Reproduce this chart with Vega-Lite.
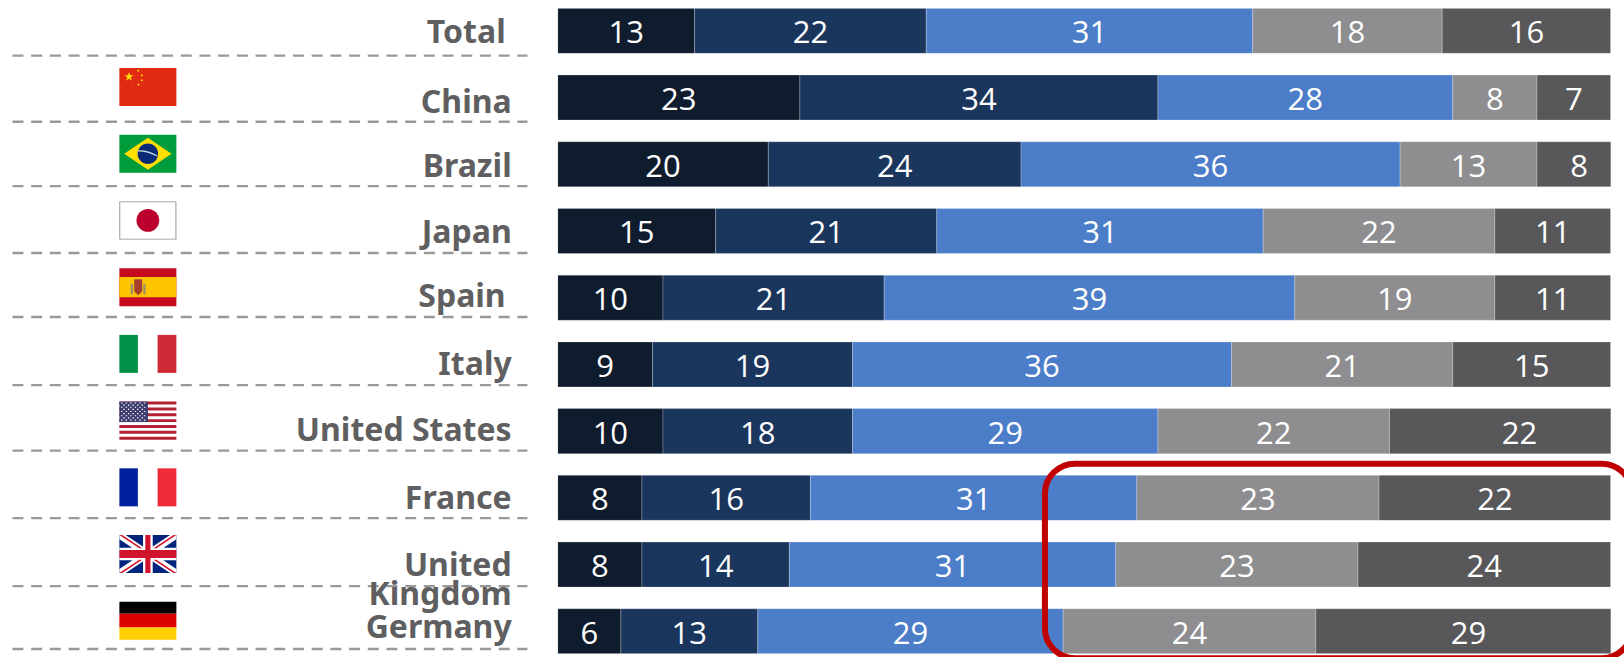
{"$schema":"https://vega.github.io/schema/vega-lite/v6.json","width":1053,"height":645.5,"padding":{"left":557.7,"right":13.3,"top":8.3,"bottom":3.2},"autosize":{"type":"none"},"background":"white","config":{"view":{"stroke":null}},
"datasets":{
"bars":[
{"country":"Total","seg":1,"value":13},{"country":"Total","seg":2,"value":22},{"country":"Total","seg":3,"value":31},{"country":"Total","seg":4,"value":18},{"country":"Total","seg":5,"value":16},
{"country":"China","seg":1,"value":23},{"country":"China","seg":2,"value":34},{"country":"China","seg":3,"value":28},{"country":"China","seg":4,"value":8},{"country":"China","seg":5,"value":7},
{"country":"Brazil","seg":1,"value":20},{"country":"Brazil","seg":2,"value":24},{"country":"Brazil","seg":3,"value":36},{"country":"Brazil","seg":4,"value":13},{"country":"Brazil","seg":5,"value":8},
{"country":"Japan","seg":1,"value":15},{"country":"Japan","seg":2,"value":21},{"country":"Japan","seg":3,"value":31},{"country":"Japan","seg":4,"value":22},{"country":"Japan","seg":5,"value":11},
{"country":"Spain","seg":1,"value":10},{"country":"Spain","seg":2,"value":21},{"country":"Spain","seg":3,"value":39},{"country":"Spain","seg":4,"value":19},{"country":"Spain","seg":5,"value":11},
{"country":"Italy","seg":1,"value":9},{"country":"Italy","seg":2,"value":19},{"country":"Italy","seg":3,"value":36},{"country":"Italy","seg":4,"value":21},{"country":"Italy","seg":5,"value":15},
{"country":"United States","seg":1,"value":10},{"country":"United States","seg":2,"value":18},{"country":"United States","seg":3,"value":29},{"country":"United States","seg":4,"value":22},{"country":"United States","seg":5,"value":22},
{"country":"France","seg":1,"value":8},{"country":"France","seg":2,"value":16},{"country":"France","seg":3,"value":31},{"country":"France","seg":4,"value":23},{"country":"France","seg":5,"value":22},
{"country":"United Kingdom","seg":1,"value":8},{"country":"United Kingdom","seg":2,"value":14},{"country":"United Kingdom","seg":3,"value":31},{"country":"United Kingdom","seg":4,"value":23},{"country":"United Kingdom","seg":5,"value":24},
{"country":"Germany","seg":1,"value":6},{"country":"Germany","seg":2,"value":13},{"country":"Germany","seg":3,"value":29},{"country":"Germany","seg":4,"value":24},{"country":"Germany","seg":5,"value":29}],
"countries":[{"country":"Total","label":"Total"},{"country":"China","label":"China"},{"country":"Brazil","label":"Brazil"},{"country":"Japan","label":"Japan"},{"country":"Spain","label":"Spain"},{"country":"Italy","label":"Italy"},{"country":"United States","label":"United States"},{"country":"France","label":"France"},{"country":"United Kingdom","label":"United\nKingdom"},{"country":"Germany","label":"Germany"}],
"flags":[
{"country":"China","part":"cn_bg"},{"country":"China","part":"cn_star"},
{"country":"Brazil","part":"br_bg"},{"country":"Brazil","part":"br_dia"},{"country":"Brazil","part":"br_globe"},{"country":"Brazil","part":"br_band"},
{"country":"Japan","part":"jp_edge"},{"country":"Japan","part":"jp_bg"},{"country":"Japan","part":"jp_disc"},
{"country":"Spain","part":"es_bg"},{"country":"Spain","part":"es_band"},{"country":"Spain","part":"es_pillars"},{"country":"Spain","part":"es_crest"},
{"country":"Italy","part":"it_l"},{"country":"Italy","part":"it_r"},
{"country":"United States","part":"us_bg"},{"country":"United States","part":"us_stripes"},{"country":"United States","part":"us_canton"},{"country":"United States","part":"us_stars"},
{"country":"France","part":"fr_l"},{"country":"France","part":"fr_r"},
{"country":"United Kingdom","part":"uk_bg"},{"country":"United Kingdom","part":"uk_white"},{"country":"United Kingdom","part":"uk_red"},
{"country":"Germany","part":"de_a"},{"country":"Germany","part":"de_b"},{"country":"Germany","part":"de_c"}],
"box":[{"name":"highlight"}]},
"layer":[
{"data":{"name":"bars"},"mark":{"type":"bar","clip":true,"stroke":"#ffffff","strokeWidth":0.4,"strokeOpacity":0.6},
"encoding":{"y":{"field":"country","type":"nominal","axis":null,"scale":{"domain":["Total","China","Brazil","Japan","Spain","Italy","United States","France","United Kingdom","Germany"],"paddingInner":0.325,"paddingOuter":0}},
"x":{"field":"value","type":"quantitative","stack":"zero","axis":null,"scale":{"domain":[0,100],"nice":false}},
"order":{"field":"seg","type":"ordinal"},
"color":{"field":"seg","type":"ordinal","legend":null,"scale":{"domain":[1,2,3,4,5],"range":["#0F1C2E","#1B365D","#4C7DC9","#8E8E90","#58585A"]}}}},
{"data":{"name":"bars"},"transform":[{"filter":"!(datum.country==='United States' && datum.seg===5)"}],"mark":{"type":"text","color":"white","font":"Open Sans","fontSize":31,"baseline":"middle","yOffset":3.5},
"encoding":{"y":{"field":"country","type":"nominal"},
"x":{"field":"value","type":"quantitative","stack":"zero","bandPosition":0.5},
"order":{"field":"seg","type":"ordinal"},
"text":{"field":"value","type":"quantitative"}}},
{"data":{"name":"bars"},"mark":{"type":"text","color":"white","font":"Open Sans","fontSize":31,"baseline":"middle","yOffset":3.5,"xOffset":130},
"transform":[{"stack":"value","groupby":["country"],"sort":[{"field":"seg","order":"ascending"}],"as":["a","b"]},{"filter":"datum.country==='United States' && datum.seg===5"}],
"encoding":{"y":{"field":"country","type":"nominal"},
"x":{"field":"a","type":"quantitative"},
"text":{"field":"value","type":"quantitative"}}},
{"data":{"name":"flags"},"mark":{"type":"point","filled":true,"size":3249,"opacity":1,"strokeWidth":0,"yOffset":-10.5},
"encoding":{"y":{"field":"country","type":"nominal"},
"x":{"datum":-38.92,"type":"quantitative"},
"fill":{"field":"part","type":"nominal","legend":null,"scale":{"domain":["cn_bg","cn_star","br_bg","br_dia","br_globe","br_band","jp_edge","jp_bg","jp_disc","es_bg","es_band","es_pillars","es_crest","it_l","it_r","us_bg","us_stripes","us_canton","us_stars","fr_l","fr_r","uk_bg","uk_white","uk_red","de_a","de_b","de_c"],"range":["#E12A12","#FFDE00","#009B3A","#FEDF00","#0A2A78","#C8DCD8","#8A8A8A","#FFFFFF","#BC002D","#C60B1E","#FFC400","#9A8F70","#A5402E","#009246","#CE2B37","#FFFFFF","#B22234","#3C3B6E","#FFFFFF","#00209F","#EF2B3A","#00247D","#FFFFFF","#CF142B","#000000","#DD0000","#FFCE00"]}},
"shape":{"field":"part","type":"nominal","legend":null,"scale":{"domain":["cn_bg","cn_star","br_bg","br_dia","br_globe","br_band","jp_edge","jp_bg","jp_disc","es_bg","es_band","es_pillars","es_crest","it_l","it_r","us_bg","us_stripes","us_canton","us_stars","fr_l","fr_r","uk_bg","uk_white","uk_red","de_a","de_b","de_c"],"range":[
"M-1,-.667H1V.667H-1Z",
"M-.66,-.53L-.622,-.413L-.498,-.413L-.598,-.34L-.56,-.222L-.66,-.295L-.76,-.222L-.722,-.34L-.822,-.413L-.698,-.413ZM-.34,-.62L-.3,-.575L-.34,-.53L-.38,-.575ZM-.21,-.455L-.17,-.41L-.21,-.365L-.25,-.41ZM-.21,-.285L-.17,-.24L-.21,-.195L-.25,-.24ZM-.33,-.125L-.29,-.08L-.33,-.035L-.37,-.08Z",
"M-1,-.667H1V.667H-1Z",
"M-.83,0L0,-.56L.83,0L0,.56Z",
"M-.36,0A.36,.36 0 1 1 .36,0A.36,.36 0 1 1 -.36,0Z",
"M-.34,-.12Q0,-.14 .34,.06L.33,.1Q0,-.08 -.35,-.08Z",
"M-1,-.667H1V.667H-1Z",
"M-.97,-.64H.97V.64H-.97Z",
"M-.4,0A.4,.4 0 1 1 .4,0A.4,.4 0 1 1 -.4,0Z",
"M-1,-.667H1V.667H-1Z",
"M-1,-.36H1V.35H-1Z",
"M-.6,-.12H-.52V.25H-.6ZM-.16,-.12H-.08V.25H-.16Z",
"M-.48,-.28H-.2V.15L-.34,.28L-.48,.15Z",
"M-1,-.667H-.35V.667H-1Z",
"M.34,-.667H1V.667H.34Z",
"M-1,-.667H1V.667H-1Z",
"M-1,-.667H1V-.564H-1ZM-1,-.462H1V-.359H-1ZM-1,-.256H1V-.154H-1ZM-1,-.051H1V.051H-1ZM-1,.154H1V.256H-1ZM-1,.359H1V.462H-1ZM-1,.564H1V.667H-1Z",
"M-1,-.667H0V.05H-1Z",
"M-.94,-.64h.05v.04h-.05zM-.78,-.64h.05v.04h-.05zM-.62,-.64h.05v.04h-.05zM-.46,-.64h.05v.04h-.05zM-.3,-.64h.05v.04h-.05zM-.14,-.64h.05v.04h-.05zM-.86,-.565h.05v.04h-.05zM-.7,-.565h.05v.04h-.05zM-.54,-.565h.05v.04h-.05zM-.38,-.565h.05v.04h-.05zM-.22,-.565h.05v.04h-.05zM-.94,-.49h.05v.04h-.05zM-.78,-.49h.05v.04h-.05zM-.62,-.49h.05v.04h-.05zM-.46,-.49h.05v.04h-.05zM-.3,-.49h.05v.04h-.05zM-.14,-.49h.05v.04h-.05zM-.86,-.415h.05v.04h-.05zM-.7,-.415h.05v.04h-.05zM-.54,-.415h.05v.04h-.05zM-.38,-.415h.05v.04h-.05zM-.22,-.415h.05v.04h-.05zM-.94,-.34h.05v.04h-.05zM-.78,-.34h.05v.04h-.05zM-.62,-.34h.05v.04h-.05zM-.46,-.34h.05v.04h-.05zM-.3,-.34h.05v.04h-.05zM-.14,-.34h.05v.04h-.05zM-.86,-.265h.05v.04h-.05zM-.7,-.265h.05v.04h-.05zM-.54,-.265h.05v.04h-.05zM-.38,-.265h.05v.04h-.05zM-.22,-.265h.05v.04h-.05zM-.94,-.19h.05v.04h-.05zM-.78,-.19h.05v.04h-.05zM-.62,-.19h.05v.04h-.05zM-.46,-.19h.05v.04h-.05zM-.3,-.19h.05v.04h-.05zM-.14,-.19h.05v.04h-.05zM-.86,-.115h.05v.04h-.05zM-.7,-.115h.05v.04h-.05zM-.54,-.115h.05v.04h-.05zM-.38,-.115h.05v.04h-.05zM-.22,-.115h.05v.04h-.05zM-.94,-.04h.05v.04h-.05zM-.78,-.04h.05v.04h-.05zM-.62,-.04h.05v.04h-.05zM-.46,-.04h.05v.04h-.05zM-.3,-.04h.05v.04h-.05zM-.14,-.04h.05v.04h-.05z",
"M-1,-.667H-.35V.667H-1Z",
"M.34,-.667H1V.667H.34Z",
"M-1,-.667H1V.667H-1Z",
"M-1,-.667H-.78L1,.52V.667H.78L-1,-.52ZM1,-.667V-.52L-.78,.667H-1V.52L.78,-.667ZM-.17,-.667H.17V-.22H1V.22H.17V.667H-.17V.22H-1V-.22H-.17Z",
"M-1,-.667H-.9L-.2,-.2H-.3ZM.9,-.667H1L.3,-.2H.2ZM-1,.667L-.3,.2H-.2L-.9,.667ZM.2,.2H.3L1,.667H.9ZM-.09,-.667H.09V-.14H1V.14H.09V.667H-.09V.14H-1V-.14H-.09Z",
"M-1,-.667H1V-.25H-1Z",
"M-1,-.25H1V.24H-1Z",
"M-1,.24H1V.667H-1Z"]}}}},
{"data":{"name":"box"},"mark":{"type":"rect","fillOpacity":0,"stroke":"#C00000","strokeWidth":6,"cornerRadius":30,"yOffset":-34.2,"y2Offset":27},
"encoding":{"x":{"datum":46.27,"type":"quantitative"},"x2":{"datum":102},
"y":{"datum":"France","type":"nominal"},"y2":{"datum":"Germany"}}},
{"data":{"name":"countries"},"transform":[{"filter":"datum.country==='Total'"}],"layer":[
{"mark":{"type":"rule","color":"#999999","strokeWidth":2.3,"strokeDash":[11,7.7],"yOffset":2.2},"encoding":{"y":{"field":"country","type":"nominal","bandPosition":1},"x":{"datum":-51.78,"type":"quantitative"},"x2":{"datum":-2.87}}},
{"mark":{"type":"text","font":"Noto Sans","fontWeight":"bold","fontSize":32,"color":"#5F5F61","align":"right","baseline":"middle","yOffset":2.5,"xOffset":-6,"lineBreak":"\n","lineHeight":29},"encoding":{"y":{"field":"country","type":"nominal"},"x":{"datum":-4.37,"type":"quantitative"},"text":{"field":"label"}}}]},
{"data":{"name":"countries"},"transform":[{"filter":"datum.country==='China'"}],"layer":[
{"mark":{"type":"rule","color":"#999999","strokeWidth":2.3,"strokeDash":[11,7.7],"yOffset":1.7},"encoding":{"y":{"field":"country","type":"nominal","bandPosition":1},"x":{"datum":-51.78,"type":"quantitative"},"x2":{"datum":-2.87}}},
{"mark":{"type":"text","font":"Noto Sans","fontWeight":"bold","fontSize":32,"color":"#5F5F61","align":"right","baseline":"middle","yOffset":5,"lineBreak":"\n","lineHeight":29},"encoding":{"y":{"field":"country","type":"nominal"},"x":{"datum":-4.37,"type":"quantitative"},"text":{"field":"label"}}}]},
{"data":{"name":"countries"},"transform":[{"filter":"datum.country==='Brazil'"}],"layer":[
{"mark":{"type":"rule","color":"#999999","strokeWidth":2.3,"strokeDash":[11,7.7],"yOffset":-0.7},"encoding":{"y":{"field":"country","type":"nominal","bandPosition":1},"x":{"datum":-51.78,"type":"quantitative"},"x2":{"datum":-2.87}}},
{"mark":{"type":"text","font":"Noto Sans","fontWeight":"bold","fontSize":32,"color":"#5F5F61","align":"right","baseline":"middle","yOffset":3,"lineBreak":"\n","lineHeight":29},"encoding":{"y":{"field":"country","type":"nominal"},"x":{"datum":-4.37,"type":"quantitative"},"text":{"field":"label"}}}]},
{"data":{"name":"countries"},"transform":[{"filter":"datum.country==='Japan'"}],"layer":[
{"mark":{"type":"rule","color":"#999999","strokeWidth":2.3,"strokeDash":[11,7.7],"yOffset":-0.5},"encoding":{"y":{"field":"country","type":"nominal","bandPosition":1},"x":{"datum":-51.78,"type":"quantitative"},"x2":{"datum":-2.87}}},
{"mark":{"type":"text","font":"Noto Sans","fontWeight":"bold","fontSize":32,"color":"#5F5F61","align":"right","baseline":"middle","yOffset":2,"lineBreak":"\n","lineHeight":29},"encoding":{"y":{"field":"country","type":"nominal"},"x":{"datum":-4.37,"type":"quantitative"},"text":{"field":"label"}}}]},
{"data":{"name":"countries"},"transform":[{"filter":"datum.country==='Spain'"}],"layer":[
{"mark":{"type":"rule","color":"#999999","strokeWidth":2.3,"strokeDash":[11,7.7],"yOffset":-3.2},"encoding":{"y":{"field":"country","type":"nominal","bandPosition":1},"x":{"datum":-51.78,"type":"quantitative"},"x2":{"datum":-2.87}}},
{"mark":{"type":"text","font":"Noto Sans","fontWeight":"bold","fontSize":32,"color":"#5F5F61","align":"right","baseline":"middle","yOffset":-0.7,"xOffset":-6,"lineBreak":"\n","lineHeight":29},"encoding":{"y":{"field":"country","type":"nominal"},"x":{"datum":-4.37,"type":"quantitative"},"text":{"field":"label"}}}]},
{"data":{"name":"countries"},"transform":[{"filter":"datum.country==='Italy'"}],"layer":[
{"mark":{"type":"rule","color":"#999999","strokeWidth":2.3,"strokeDash":[11,7.7],"yOffset":-1.9},"encoding":{"y":{"field":"country","type":"nominal","bandPosition":1},"x":{"datum":-51.78,"type":"quantitative"},"x2":{"datum":-2.87}}},
{"mark":{"type":"text","font":"Noto Sans","fontWeight":"bold","fontSize":32,"color":"#5F5F61","align":"right","baseline":"middle","yOffset":0.5,"lineBreak":"\n","lineHeight":29},"encoding":{"y":{"field":"country","type":"nominal"},"x":{"datum":-4.37,"type":"quantitative"},"text":{"field":"label"}}}]},
{"data":{"name":"countries"},"transform":[{"filter":"datum.country==='United States'"}],"layer":[
{"mark":{"type":"rule","color":"#999999","strokeWidth":2.3,"strokeDash":[11,7.7],"yOffset":-3},"encoding":{"y":{"field":"country","type":"nominal","bandPosition":1},"x":{"datum":-51.78,"type":"quantitative"},"x2":{"datum":-2.87}}},
{"mark":{"type":"text","font":"Noto Sans","fontWeight":"bold","fontSize":32,"color":"#5F5F61","align":"right","baseline":"middle","yOffset":-0.5,"lineBreak":"\n","lineHeight":29},"encoding":{"y":{"field":"country","type":"nominal"},"x":{"datum":-4.37,"type":"quantitative"},"text":{"field":"label"}}}]},
{"data":{"name":"countries"},"transform":[{"filter":"datum.country==='France'"}],"layer":[
{"mark":{"type":"rule","color":"#999999","strokeWidth":2.3,"strokeDash":[11,7.7],"yOffset":-2.3},"encoding":{"y":{"field":"country","type":"nominal","bandPosition":1},"x":{"datum":-51.78,"type":"quantitative"},"x2":{"datum":-2.87}}},
{"mark":{"type":"text","font":"Noto Sans","fontWeight":"bold","fontSize":32,"color":"#5F5F61","align":"right","baseline":"middle","yOffset":1.5,"lineBreak":"\n","lineHeight":29},"encoding":{"y":{"field":"country","type":"nominal"},"x":{"datum":-4.37,"type":"quantitative"},"text":{"field":"label"}}}]},
{"data":{"name":"countries"},"transform":[{"filter":"datum.country==='United Kingdom'"}],"layer":[
{"mark":{"type":"rule","color":"#999999","strokeWidth":2.3,"strokeDash":[11,7.7],"yOffset":-1},"encoding":{"y":{"field":"country","type":"nominal","bandPosition":1},"x":{"datum":-51.78,"type":"quantitative"},"x2":{"datum":-2.87}}},
{"mark":{"type":"text","font":"Noto Sans","fontWeight":"bold","fontSize":32,"color":"#5F5F61","align":"right","baseline":"middle","yOffset":1,"lineBreak":"\n","lineHeight":29},"encoding":{"y":{"field":"country","type":"nominal"},"x":{"datum":-4.37,"type":"quantitative"},"text":{"field":"label"}}}]},
{"data":{"name":"countries"},"transform":[{"filter":"datum.country==='Germany'"}],"layer":[
{"mark":{"type":"rule","color":"#999999","strokeWidth":2.3,"strokeDash":[11,7.7],"yOffset":-4.8},"encoding":{"y":{"field":"country","type":"nominal","bandPosition":1},"x":{"datum":-51.78,"type":"quantitative"},"x2":{"datum":-2.87}}},
{"mark":{"type":"text","font":"Noto Sans","fontWeight":"bold","fontSize":32,"color":"#5F5F61","align":"right","baseline":"middle","yOffset":-3,"lineBreak":"\n","lineHeight":29},"encoding":{"y":{"field":"country","type":"nominal"},"x":{"datum":-4.37,"type":"quantitative"},"text":{"field":"label"}}}]}
]}
